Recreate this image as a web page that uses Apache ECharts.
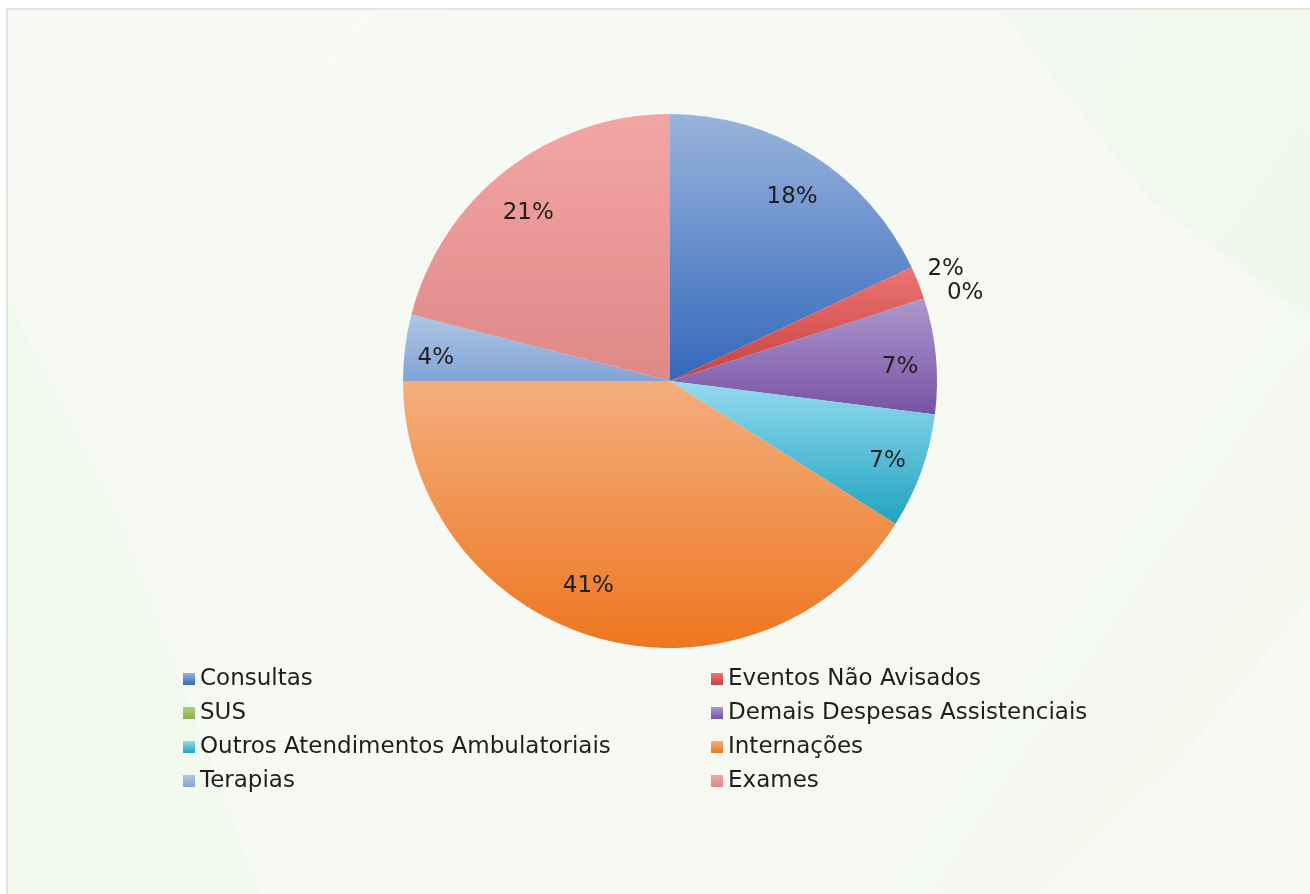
<!DOCTYPE html>
<html>
<head>
<meta charset="utf-8">
<script src="https://cdn.jsdelivr.net/npm/echarts@6/dist/echarts.min.js"></script>
<style>
  html, body { margin: 0; padding: 0; background: #ffffff; }
  #chart { width: 1310px; height: 894px; }
</style>
</head>
<body>
<div id="chart"></div>
<script>
// Distribuição das despesas assistenciais (%)
const categories = [
  'Consultas',
  'Eventos Não Avisados',
  'SUS',
  'Demais Despesas Assistenciais',
  'Outros Atendimentos Ambulatoriais',
  'Internações',
  'Terapias',
  'Exames'
];
const shares = [18, 2, 0, 7, 7, 41, 4, 21];

// legend columns
const legendLeft = ['Consultas', 'SUS', 'Outros Atendimentos Ambulatoriais', 'Terapias'];
const legendRight = ['Eventos Não Avisados', 'Demais Despesas Assistenciais', 'Internações', 'Exames'];

// labels drawn just outside the pie (thin slices)
const outerLabelNames = ['Eventos Não Avisados', 'SUS'];

// small label nudges [dx, dy] in pixels
const labelNudge = {
  'Consultas': [0, 9],
  'Eventos Não Avisados': [-6, 0],
  'SUS': [7, 6],
  'Demais Despesas Assistenciais': [3, 7],
  'Outros Atendimentos Ambulatoriais': [3, 3],
  'Internações': [-18, -14],
  'Terapias': [-8, 6],
  'Exames': [-2, 12]
};

// slice colours: [top, bottom] of a vertical gradient
const sliceColors = {
  'Consultas': ['#98b4dc', '#3467bb'],
  'Eventos Não Avisados': ['#ec7575', '#c8403e'],
  'SUS': ['#b2cf7a', '#8cae4a'],
  'Demais Despesas Assistenciais': ['#ad97cc', '#7853a6'],
  'Outros Atendimentos Ambulatoriais': ['#95dbee', '#1fa3c2'],
  'Internações': ['#f4ae7e', '#ee761f'],
  'Terapias': ['#adc6e6', '#82a3d4'],
  'Exames': ['#f3a5a4', '#df8888']
};

function grad(name) {
  const c = sliceColors[name];
  return new echarts.graphic.LinearGradient(0, 0, 0, 1, [
    { offset: 0, color: c[0] },
    { offset: 1, color: c[1] }
  ]);
}

const FONT = '"DejaVu Sans", Verdana, sans-serif';
const CENTER = [670, 381];
const R = 267;
const OUTER_R = 316;      // extent of the polar frame used for outside labels
const OUTER_LABEL_R = 303;

const total = shares.reduce((a, b) => a + b, 0);
const pieData = categories.map((name, i) => ({
  name, value: shares[i], itemStyle: { color: grad(name) }
}));

// inside labels ride on a transparent ring
const innerLabelData = categories.map((name, i) => ({
  name, value: shares[i],
  label: { show: outerLabelNames.indexOf(name) < 0, offset: labelNudge[name] }
}));

// outside labels sit at each slice's mid-angle in a polar frame
const outerLabelData = [];
let acc = 0;
categories.forEach((name, i) => {
  const mid = acc + shares[i] / 2;
  acc += shares[i];
  if (outerLabelNames.indexOf(name) >= 0) {
    outerLabelData.push({
      name, value: [OUTER_LABEL_R, mid],
      label: { offset: labelNudge[name] }
    });
  }
});

const labelText = {
  show: true,
  position: 'inside',
  color: '#1e1e1e',
  fontFamily: FONT,
  fontSize: 23,
  formatter: p => shares[categories.indexOf(p.name)] + '%'
};

const legendBase = {
  orient: 'vertical',
  top: 662,
  itemWidth: 12,
  itemHeight: 12,
  itemGap: 10,
  icon: 'rect',
  selectedMode: false,
  textStyle: { fontFamily: FONT, fontSize: 23, color: '#1e1e1e', lineHeight: 24 }
};

const chart = echarts.init(document.getElementById('chart'), null, { renderer: 'canvas' });
chart.setOption({
  animation: false,
  backgroundColor: '#ffffff',
  graphic: [
    {
      type: 'rect', z: -10, silent: true,
      shape: { x: 7, y: 9, width: 1310, height: 892 },
      style: {
        fill: new echarts.graphic.LinearGradient(0, 0, 1, 1, [
          { offset: 0, color: '#f5f9f1' },
          { offset: 0.5, color: '#f7faf4' },
          { offset: 1, color: '#f3f8ee' }
        ]),
        stroke: '#e2e4e1', lineWidth: 2
      }
    },
    // faint facets in the backdrop
    {
      type: 'polygon', z: -9, silent: true,
      shape: { points: [[1040, 894], [1310, 894], [1310, 600], [1180, 760]] },
      style: { fill: 'rgba(255,255,255,0.35)' }
    },
    {
      type: 'polygon', z: -9, silent: true,
      shape: { points: [[8, 300], [8, 894], [260, 894], [120, 520]] },
      style: { fill: 'rgba(236,245,228,0.35)' }
    },
    {
      type: 'polygon', z: -9, silent: true,
      shape: { points: [[1000, 10], [1310, 10], [1310, 320], [1150, 200]] },
      style: { fill: 'rgba(238,246,232,0.4)' }
    },
    {
      type: 'polygon', z: -9, silent: true,
      shape: { points: [[8, 10], [380, 10], [180, 260], [8, 200]] },
      style: { fill: 'rgba(255,255,255,0.25)' }
    }
  ],
  polar: { center: CENTER, radius: OUTER_R },
  angleAxis: {
    type: 'value', min: 0, max: total, startAngle: 90, clockwise: true, show: false
  },
  radiusAxis: { type: 'value', min: 0, max: OUTER_R, show: false },
  legend: [
    Object.assign({ left: 178, data: legendLeft }, legendBase),
    Object.assign({ left: 706, data: legendRight }, legendBase)
  ],
  series: [
    {
      type: 'pie',
      center: CENTER,
      radius: [0, R],
      startAngle: 90,
      clockwise: true,
      avoidLabelOverlap: false,
      label: { show: false },
      labelLine: { show: false },
      itemStyle: { borderWidth: 0 },
      emphasis: { disabled: true },
      data: pieData
    },
    {
      type: 'pie',
      center: CENTER,
      radius: [190, 260],
      startAngle: 90,
      clockwise: true,
      silent: true,
      avoidLabelOverlap: false,
      itemStyle: { color: 'rgba(0,0,0,0)', borderWidth: 0 },
      labelLine: { show: false },
      emphasis: { disabled: true },
      label: labelText,
      data: innerLabelData
    },
    {
      type: 'scatter',
      coordinateSystem: 'polar',
      silent: true,
      symbolSize: 0,
      itemStyle: { color: 'rgba(0,0,0,0)', opacity: 1 },
      emphasis: { disabled: true },
      label: labelText,
      data: outerLabelData
    }
  ]
});
</script>
</body>
</html>
